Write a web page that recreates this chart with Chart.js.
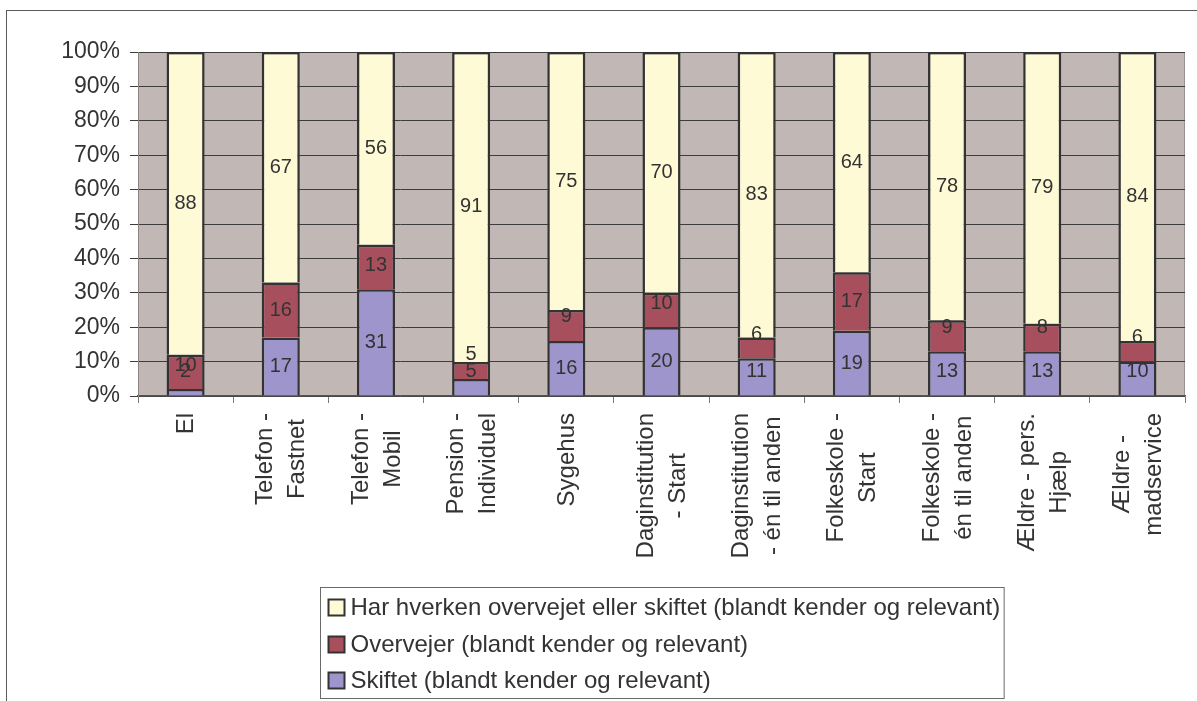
<!DOCTYPE html>
<html><head><meta charset="utf-8">
<script src="https://cdn.jsdelivr.net/npm/chart.js@4.4.1/dist/chart.umd.min.js"></script>
<style>
html,body{margin:0;padding:0;background:#fff;overflow:hidden}
#wrap{position:relative;width:1197px;height:701px}
#frame{position:absolute;left:6px;top:10px;width:1300px;height:800px;border:1.5px solid #5a5a5a;box-sizing:border-box}
canvas{position:absolute;left:0;top:0}
</style></head><body>
<div id="wrap"><div id="frame"></div><canvas id="c" width="1197" height="701"></canvas></div>
<script>
// ---- data ----
const categories = [
  ["El"],
  ["Telefon -","Fastnet"],
  ["Telefon -","Mobil"],
  ["Pension -","Individuel"],
  ["Sygehus"],
  ["Daginstitution","- Start"],
  ["Daginstitution","- én til anden"],
  ["Folkeskole -","Start"],
  ["Folkeskole -","én til anden"],
  ["Ældre - pers.","Hjælp"],
  ["Ældre -","madservice"]
];
const skiftet    = [2,17,31,5,16,20,11,19,13,13,10];
const overvejer  = [10,16,13,5,9,10,6,17,9,8,6];
const harHverken = [88,67,56,91,75,70,83,64,78,79,84];
const seriesNames = [
  "Skiftet (blandt kender og relevant)",
  "Overvejer (blandt kender og relevant)",
  "Har hverken overvejet eller skiftet (blandt kender og relevant)"
];
const yTickValues = [0,10,20,30,40,50,60,70,80,90,100];

// ---- styling ----
const FONT = "'Liberation Sans', Arial, sans-serif";
const TEXT = "#333333";
const colors = ["#9D95CB", "#A84F5E", "#FFFAD6"];

const totals = skiftet.map((v,i) => v + overvejer[i] + harHverken[i]);
const pct = arr => arr.map((v,i) => v / totals[i] * 100);
const rawSeries = [skiftet, overvejer, harHverken];

const plotBg = {
  id: 'plotBg',
  beforeDraw(chart) {
    const a = chart.chartArea, ctx = chart.ctx;
    ctx.save();
    ctx.fillStyle = '#C1B8B6';
    ctx.fillRect(a.left, a.top, a.right - a.left, a.bottom - a.top);
    ctx.strokeStyle = '#9a9090';
    ctx.lineWidth = 1;
    ctx.beginPath();
    ctx.moveTo(a.right - 0.5, a.top); ctx.lineTo(a.right - 0.5, a.bottom);
    ctx.stroke();
    ctx.restore();
  }
};

const valueLabels = {
  id: 'valueLabels',
  afterDatasetsDraw(chart) {
    const ctx = chart.ctx;
    ctx.save();
    ctx.font = "20px " + FONT;
    ctx.fillStyle = TEXT;
    ctx.textAlign = 'center';
    ctx.textBaseline = 'middle';
    chart.data.datasets.forEach((ds, di) => {
      const meta = chart.getDatasetMeta(di);
      meta.data.forEach((el, i) => {
        const center = (el.y + el.base) / 2;
        const y = Math.min(center, el.base - 24);
        ctx.fillText(String(rawSeries[di][i]), el.x, y);
      });
    });
    ctx.restore();
  }
};

const xLabels = {
  id: 'xLabels',
  afterDraw(chart) {
    const ctx = chart.ctx, xs = chart.scales.x;
    const top = chart.chartArea.bottom + 17;
    const lineGap = 32;
    ctx.save();
    ctx.font = "24px " + FONT;
    ctx.fillStyle = TEXT;
    ctx.textAlign = 'center';
    ctx.textBaseline = 'middle';
    categories.forEach((lines, i) => {
      const x = xs.getPixelForValue(i);
      const maxW = Math.max(...lines.map(l => ctx.measureText(l).width));
      ctx.save();
      ctx.translate(x, top);
      ctx.rotate(-Math.PI / 2);
      const n = lines.length;
      lines.forEach((l, j) => {
        ctx.fillText(l, -maxW / 2, (j - (n - 1) / 2) * lineGap + 1);
      });
      ctx.restore();
    });
    ctx.restore();
  }
};

const legendBox = {
  id: 'legendBox',
  afterDraw(chart) {
    const ctx = chart.ctx, a = chart.chartArea;
    ctx.save();
    ctx.font = "24px " + FONT;
    const order = [2, 1, 0];
    const maxW = Math.max(...order.map(k => ctx.measureText(seriesNames[k]).width));
    const sw = 16, gap = 6, padL = 8, padR = 4;
    const boxW = padL + sw + gap + maxW + padR;
    const boxH = 111;
    const cx = (a.left + a.right) / 2;
    const bx = Math.round(cx - boxW / 2) + 0.5, by = 587.5;
    ctx.fillStyle = '#fff';
    ctx.fillRect(bx, by, boxW, boxH);
    ctx.strokeStyle = '#6a6a6a';
    ctx.lineWidth = 1;
    ctx.strokeRect(bx, by, boxW, boxH);
    const rowY = [607, 644, 680];
    order.forEach((k, r) => {
      const y = by + (rowY[r] - 587);
      ctx.fillStyle = colors[k];
      ctx.fillRect(bx + padL, y - sw / 2, sw, sw);
      ctx.strokeStyle = '#333';
      ctx.lineWidth = 2;
      ctx.strokeRect(bx + padL, y - sw / 2, sw, sw);
      ctx.fillStyle = TEXT;
      ctx.textAlign = 'left';
      ctx.textBaseline = 'middle';
      ctx.fillText(seriesNames[k], bx + padL + sw + gap, y + 1);
    });
    ctx.restore();
  }
};

new Chart(document.getElementById('c'), {
  type: 'bar',
  data: {
    labels: categories.map(l => l.join(' ')),
    datasets: rawSeries.map((arr, k) => ({
      label: seriesNames[k],
      data: pct(arr),
      backgroundColor: colors[k],
      borderColor: '#333333',
      borderWidth: 2.5,
      borderSkipped: 'start',
      barPercentage: 0.4,
      categoryPercentage: 1.0
    }))
  },
  options: {
    responsive: false,
    animation: false,
    devicePixelRatio: 1,
    layout: { padding: { top: 52, right: 12, left: 0, bottom: 0 } },
    plugins: { legend: { display: false }, tooltip: { enabled: false } },
    scales: {
      x: {
        stacked: true,
        grid: { drawOnChartArea: false, drawTicks: true, tickLength: 7, color: '#777', offset: true },
        border: { color: '#555', width: 1.5 },
        ticks: { display: false },
        afterFit(s) { s.height = 701 - 396; }
      },
      y: {
        stacked: true,
        min: 0, max: 100,
        afterBuildTicks(s) { s.ticks = yTickValues.map(v => ({ value: v })); },
        ticks: {
          callback: v => v + '%',
          font: { family: FONT, size: 23 },
          color: TEXT,
          padding: 10
        },
        grid: { color: '#3d3d3d', lineWidth: 1, tickLength: 8 },
        border: { color: '#8c8484', width: 1 },
        afterFit(s) { s.width = 138; }
      }
    }
  },
  plugins: [plotBg, valueLabels, xLabels, legendBox]
});
</script>
</body></html>
